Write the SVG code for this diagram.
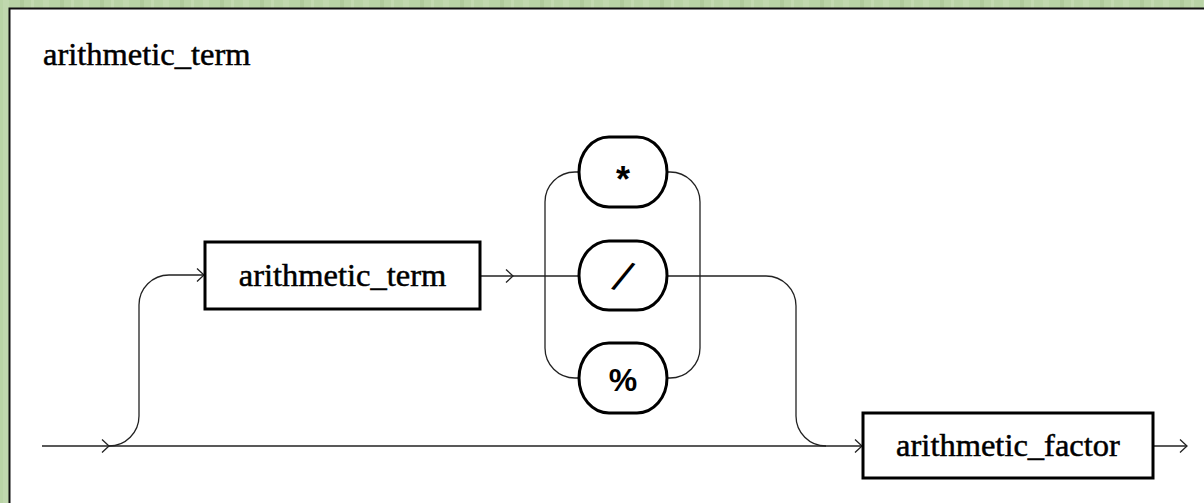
<svg xmlns="http://www.w3.org/2000/svg" xmlns:xlink="http://www.w3.org/1999/xlink" width="1204" height="503" viewBox="0 0 1204 503">
  <style>
    .conn { fill: none; stroke: #222; stroke-width: 1.3; }
    .box { fill: #fff; stroke: #000; stroke-width: 3; }
    .term { fill: #fff; stroke: #000; stroke-width: 3; }
    .lbl { font-family: "Liberation Serif", "Times New Roman", serif; font-size: 32.5px; fill: #000; stroke: #000; stroke-width: 0.5; }
    .sym { font-family: "Liberation Sans", Arial, sans-serif; font-weight: bold; fill: #000; text-anchor: middle; }
  </style>
  <defs>
    <path id="ah" d="M-7,-6.5 L0,0 L-7,6.5" fill="none" stroke="#222" stroke-width="1.3"/>
    <pattern id="tex" width="40" height="40" patternUnits="userSpaceOnUse">
      <rect width="40" height="40" fill="#b9d4a6"/>
      <rect x="3" y="0" width="6" height="40" fill="#c4dbb2" opacity="0.7"/>
      <rect x="20" y="0" width="4" height="40" fill="#a8c594" opacity="0.6"/>
      <rect x="31" y="0" width="3" height="40" fill="#cadfb9" opacity="0.6"/>
    </pattern>
  </defs>
  <rect x="0" y="0" width="1204" height="503" fill="url(#tex)"/>
  <rect x="9.5" y="8.5" width="1210" height="510" fill="#fff" stroke="#111" stroke-width="2"/>

  <text class="lbl" x="43" y="65">arithmetic_term</text>

  <g id="connectors">
    <path class="conn" d="M42,446 H863"/>
    <path class="conn" d="M109,446 A30,30 0 0 0 139,416 V305 A30,30 0 0 1 169,275 H205"/>
    <path class="conn" d="M480,276 H579"/>
    <path class="conn" d="M579,172 H575 A30,30 0 0 0 545,202 V348 A30,30 0 0 0 575,378 H579"/>
    <path class="conn" d="M667,172 H670 A30,30 0 0 1 700,202 V348 A30,30 0 0 1 670,378 H667"/>
    <path class="conn" d="M667,276 H766 A30,30 0 0 1 796,306 V416 A30,30 0 0 0 826,446"/>
    <path class="conn" d="M1153,446 H1187"/>
    <use xlink:href="#ah" x="109" y="446"/>
    <use xlink:href="#ah" x="204" y="275"/>
    <use xlink:href="#ah" x="513" y="276"/>
    <use xlink:href="#ah" x="862" y="446"/>
    <use xlink:href="#ah" x="1187" y="446"/>
  </g>

  <g id="node-arithmetic-term">
    <rect class="box" x="205" y="242" width="275" height="67"/>
    <text class="lbl" x="342.5" y="286" text-anchor="middle">arithmetic_term</text>
  </g>
  <g id="node-mul">
    <rect class="term" x="579" y="137" width="88" height="70" rx="30" ry="35"/>
    <text class="sym" x="623" y="192" style="font-size:36px">*</text>
  </g>
  <g id="node-div">
    <rect class="term" x="579" y="241" width="88" height="69" rx="30" ry="34.5"/>
    <text class="sym" x="623" y="292" style="font-size:44px;font-weight:normal" transform="rotate(24 623 277)">/</text>
  </g>
  <g id="node-mod">
    <rect class="term" x="579" y="343" width="88" height="70" rx="30" ry="35"/>
    <text class="sym" x="623" y="391" style="font-size:32px">%</text>
  </g>
  <g id="node-arithmetic-factor">
    <rect class="box" x="863" y="413" width="290" height="65"/>
    <text class="lbl" x="1008" y="456" text-anchor="middle">arithmetic_factor</text>
  </g>
</svg>
